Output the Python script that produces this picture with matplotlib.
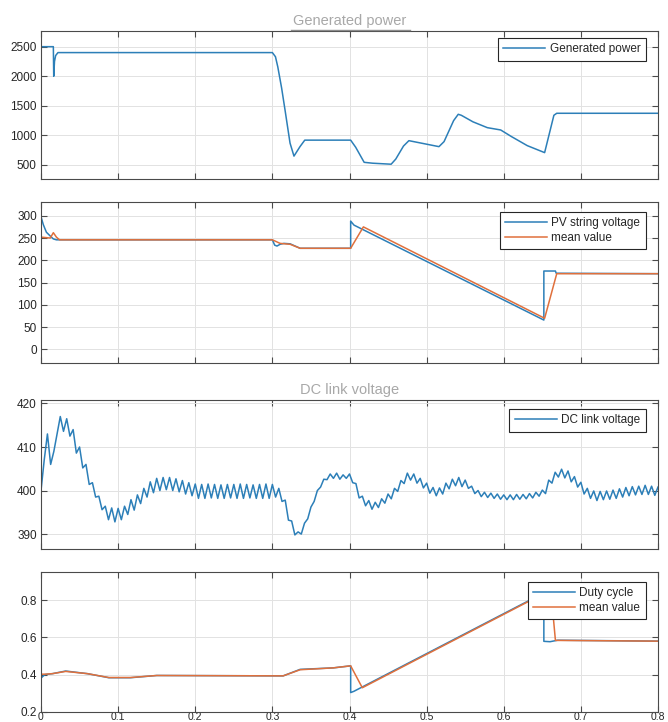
import matplotlib.pyplot as plt
import numpy as np
from matplotlib.lines import Line2D

plt.rcParams['font.family'] = ['Liberation Sans', 'DejaVu Sans']

# time axis
x_ticks = [0, 0.1, 0.2, 0.3, 0.4, 0.5, 0.6, 0.7, 0.8]
x_labels = ["0", "0.1", "0.2", "0.3", "0.4", "0.5", "0.6", "0.7", "0.8"]

# generated power
power_t = [0, 0.016, 0.0165, 0.0175, 0.019, 0.022, 0.300, 0.304, 0.307, 0.312,
           0.3164, 0.3229, 0.328, 0.3358, 0.342, 0.4015, 0.408, 0.419, 0.43, 0.454,
           0.46, 0.47, 0.477, 0.516, 0.5226, 0.535, 0.541, 0.545, 0.56, 0.5787,
           0.596, 0.61, 0.6305, 0.653, 0.665, 0.6687, 0.8]
power_v = [2500, 2500, 2000, 2250, 2350, 2400, 2400, 2330, 2160, 1800,
           1430, 870, 650, 810, 920, 920, 800, 545, 530, 513,
           600, 820, 911, 810, 895, 1250, 1357, 1340, 1230, 1131,
           1092, 980, 827, 709, 1340, 1374, 1374]

# PV string voltage and its mean
pv_t = [0, 0.003, 0.007, 0.0117, 0.016, 0.02, 0.300, 0.303, 0.306, 0.310,
        0.315, 0.323, 0.336, 0.4015, 0.4015, 0.4058, 0.652, 0.652, 0.667, 0.668, 0.8]
pv_v = [298, 280, 263, 255, 248, 246, 246, 234, 232, 236,
        238, 237, 227, 227, 288, 279, 66, 176, 176, 171, 170]
pv_mean_t = [0, 0.012, 0.016, 0.02, 0.024, 0.300, 0.310, 0.316, 0.323, 0.336,
             0.4015, 0.418, 0.653, 0.6687, 0.8]
pv_mean_v = [252, 250, 262, 252, 246, 246, 238, 237, 236, 227,
             227, 275, 70, 170, 170]

# DC link voltage, one value every half ripple period (0 .. 0.8 s)
dc_v = [400, 407, 413, 406, 409, 413, 417, 413.6, 416.5, 412.5,
        414, 408.6, 410, 405.2, 406, 401.4, 401.8, 398.5, 398.7, 395.6,
        396.4, 393.3, 396, 392.8, 395.9, 393.3, 396.4, 394.5, 397.9, 395.5,
        399, 397, 400.5, 398.5, 402, 399.5, 402.8, 400, 403, 400.2,
        403, 400, 402.7, 399.7, 402.3, 399.2, 401.8, 398.8, 401.5, 398.2,
        401.4, 398.2, 401.5, 398.3, 401.4, 398.2, 401.3, 398.2, 401.4, 398.3,
        401.4, 398.2, 401.5, 398.2, 401.4, 398.3, 401.3, 398.2, 401.4, 398.2,
        401.5, 398.2, 401.4, 398.5, 400.5, 397.5, 397.8, 393.2, 393.0, 389.8,
        390.5, 390.0, 392.5, 393.5, 396.2, 397.5, 400.0, 400.8, 402.6, 402.5,
        403.8, 402.8, 404.0, 402.6, 403.6, 402.8, 403.8, 401.8, 401.6, 398.3,
        398.7, 396.5, 397.7, 395.7, 397.3, 396.1, 398.1, 397.1, 399.2, 398.1,
        400.5, 399.8, 402.3, 401.6, 404.0, 402.4, 403.8, 401.7, 402.8, 400.6,
        401.7, 399.4, 400.7, 398.8, 400.6, 399.2, 401.7, 400.4, 402.6, 401.1,
        403.0, 400.9, 402.4, 400.5, 401.0, 399.3, 400.0, 398.6, 399.6, 398.4,
        399.4, 398.2, 399.2, 398.0, 399.0, 397.9, 399.0, 397.9, 399.1, 398.0,
        399.1, 398.1, 399.3, 398.3, 399.6, 398.7, 400.1, 399.3, 402.4, 401.7,
        404.2, 403.1, 404.9, 402.9, 404.5, 402.0, 403.2, 400.8, 401.9, 399.2,
        400.5, 398.2, 399.9, 397.7, 399.8, 397.9, 399.9, 398.0, 400.1, 398.2,
        400.4, 398.5, 400.7, 398.8, 400.9, 399.0, 401.0, 399.1, 401.2, 399.1,
        401.0, 398.9, 400.8]
dc_t = np.linspace(0, 0.8, len(dc_v))

# duty cycle and its mean
duty_t = [0, 0.005, 0.015, 0.032, 0.06, 0.088, 0.116, 0.15, 0.314, 0.336,
          0.379, 0.4015, 0.4015, 0.4058, 0.652, 0.652, 0.66, 0.67, 0.8]
duty_v = [0.381, 0.400, 0.405, 0.419, 0.405, 0.383, 0.383, 0.395, 0.393, 0.428,
          0.436, 0.447, 0.303, 0.310, 0.84, 0.579, 0.577, 0.585, 0.580]
duty_mean_t = [0, 0.005, 0.015, 0.032, 0.06, 0.088, 0.116, 0.15, 0.314, 0.336,
               0.379, 0.4015, 0.4166, 0.661, 0.667, 0.8]
duty_mean_v = [0.402, 0.402, 0.405, 0.417, 0.405, 0.384, 0.384, 0.395, 0.393, 0.426,
               0.436, 0.447, 0.329, 0.856, 0.584, 0.580]

blue = '#2c7fb8'
orange = '#e0703c'
W, H = 668, 722

fig = plt.figure(figsize=(W / 100, H / 100), dpi=100)

def make_axes(top, bottom):
    return fig.add_axes([41 / W, 1 - bottom / H, 617 / W, (bottom - top) / H])

def style(ax, ylim, yticks, show_x):
    ax.set_xlim(0, 0.8)
    ax.set_ylim(*ylim)
    ax.set_xticks(x_ticks)
    ax.set_yticks(yticks)
    if show_x:
        ax.set_xticklabels(x_labels)
    else:
        ax.set_xticklabels([])
    ax.grid(True, color='#e2e2e2', lw=0.7)
    ax.set_axisbelow(True)
    for s in ax.spines.values():
        s.set_color('#4a4a4a')
        s.set_linewidth(0.8)
    ax.tick_params(direction='in', length=4, width=0.8, top=True, right=True,
                   color='#4a4a4a', labelsize=8.5, labelcolor='#262626', pad=3)
    ax.tick_params(axis='x', pad=0, labelsize=7.5)

def legend(ax, top_frac):
    leg = ax.legend(loc='upper right', bbox_to_anchor=(0.98, top_frac),
                    borderaxespad=0, fontsize=8.5, handlelength=3.6,
                    handletextpad=0.35, borderpad=0.45, labelspacing=0.25,
                    fancybox=False, framealpha=1)
    leg.get_frame().set_edgecolor('#262626')
    leg.get_frame().set_linewidth(0.8)
    for t in leg.get_texts():
        t.set_color('#262626')

# panel 1
ax1 = make_axes(31, 179)
ax1.plot(power_t, power_v, color=blue, lw=1.1, label='Generated power')
style(ax1, (263, 2765), [500, 1000, 1500, 2000, 2500], False)
ax1.set_title('Generated power', color='#a8a8a8', fontsize=10.5, pad=4.3)
legend(ax1, 0.953)
fig.add_artist(Line2D([291 / W, 410 / W], [1 - 29.5 / H] * 2, color='#8c8c8c', lw=1))

# panel 2
ax2 = make_axes(201.7, 363.3)
ax2.plot(pv_t, pv_v, color=blue, lw=1.1, label='PV string voltage')
ax2.plot(pv_mean_t, pv_mean_v, color=orange, lw=1.1, label='mean value')
style(ax2, (-31, 331.5), [0, 50, 100, 150, 200, 250, 300], False)
legend(ax2, 0.938)

# panel 3
ax3 = make_axes(400, 549.3)
ax3.plot(dc_t, dc_v, color=blue, lw=1.1, label='DC link voltage')
style(ax3, (386.5, 420.8), [390, 400, 410, 420], False)
ax3.set_title('DC link voltage', color='#a8a8a8', fontsize=10.5, pad=4.3)
legend(ax3, 0.94)

# panel 4
ax4 = make_axes(571.7, 711.7)
ax4.plot(duty_t, duty_v, color=blue, lw=1.1, label='Duty cycle')
ax4.plot(duty_mean_t, duty_mean_v, color=orange, lw=1.1, label='mean value')
style(ax4, (0.2, 0.954), [0.2, 0.4, 0.6, 0.8], True)
legend(ax4, 0.9286)

fig.savefig('out.png', dpi=100)
